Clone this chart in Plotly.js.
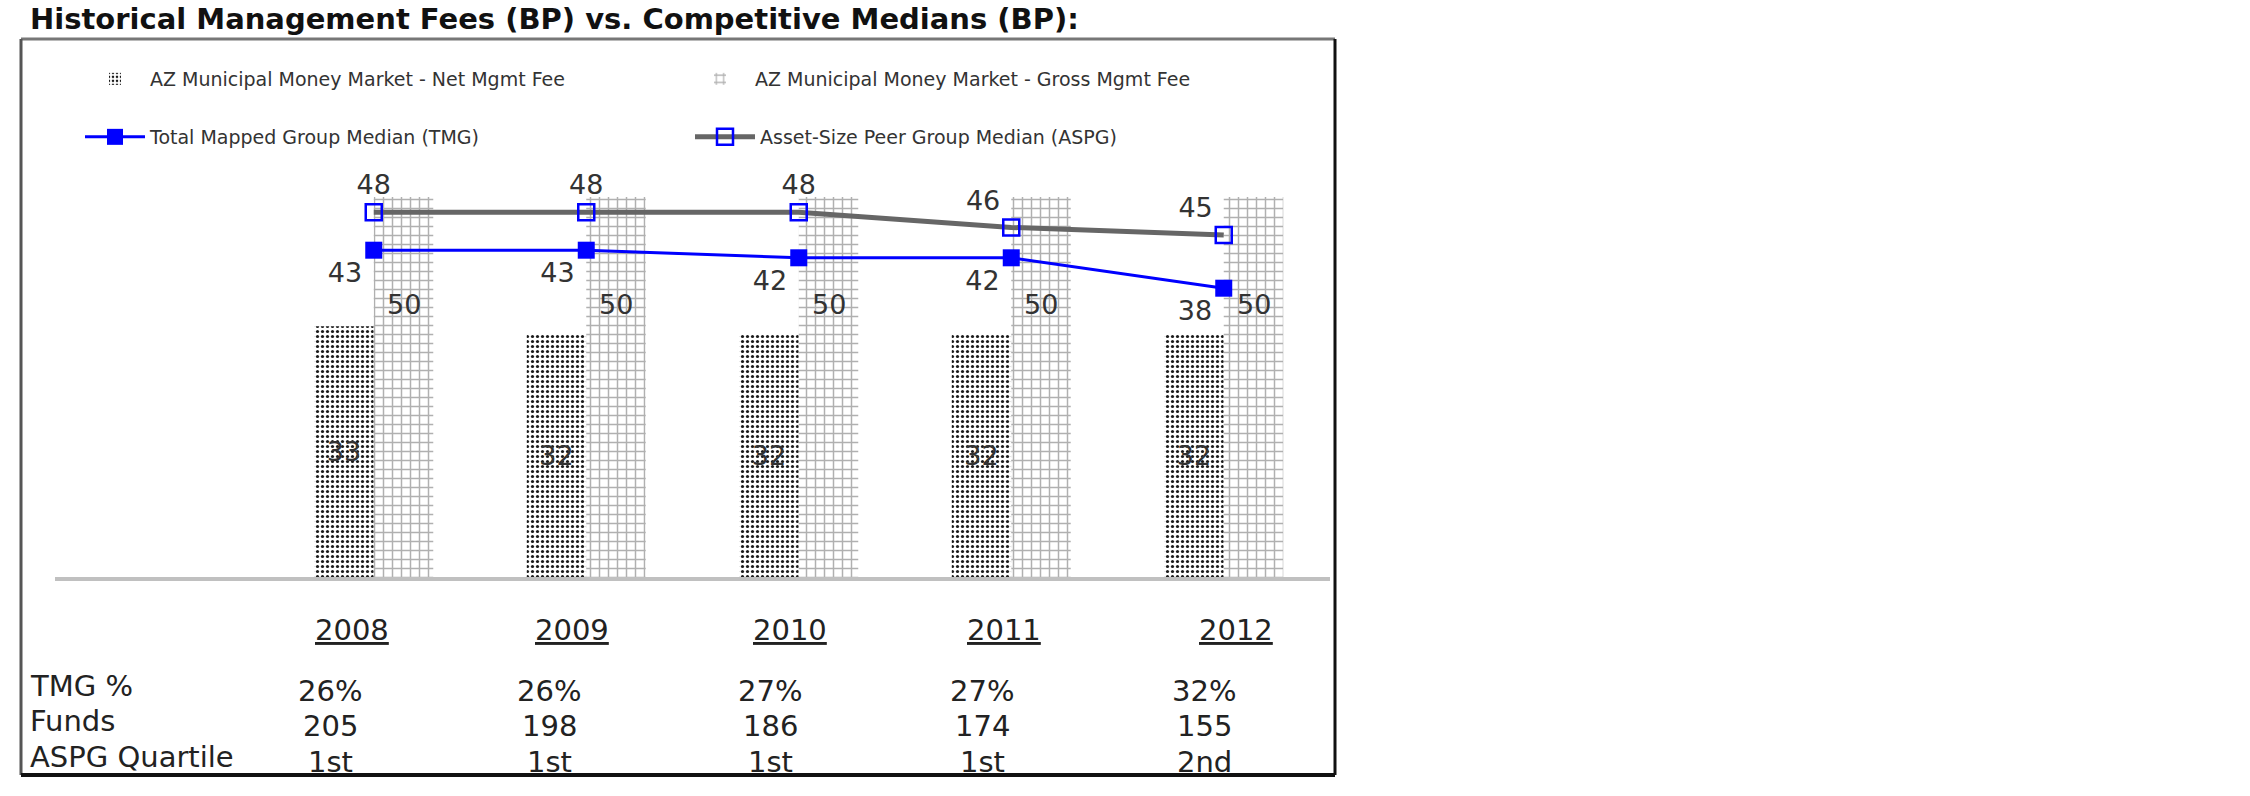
<!DOCTYPE html>
<html>
<head>
<meta charset="utf-8">
<script src="https://cdn.plot.ly/plotly-3.0.1.min.js"></script>
<style>
  html, body { margin: 0; padding: 0; background: #ffffff; }
  #chart { width: 2250px; height: 796px; }
</style>
</head>
<body>
<div id="chart"></div>
<script>
// ---------------- data ----------------
const years = ['2008', '2009', '2010', '2011', '2012'];
const netFee = [33, 32, 32, 32, 32];
const grossFee = [50, 50, 50, 50, 50];
const tmgMedian = [43, 43, 42, 42, 38];
const aspgMedian = [48, 48, 48, 46, 45];
const rowLabels = ['TMG %', 'Funds', 'ASPG Quartile'];
const tmgPct = ['26%', '26%', '27%', '27%', '32%'];
const funds = ['205', '198', '186', '174', '155'];
const aspgQuartile = ['1st', '1st', '1st', '1st', '2nd'];
const seriesNames = [
  'AZ Municipal Money Market - Net Mgmt Fee',
  'AZ Municipal Money Market - Gross Mgmt Fee',
  'Total Mapped Group Median (TMG)',
  'Asset-Size Peer Group Median (ASPG)'
];

// ---------------- layout geometry (pixels) ----------------
const W = 2250, H = 796;
const PL = 55, PR = 1330, PB = 577, PT = 159;
const px2x = p => (p - PL) / (PR - PL);
const py2y = p => (PB - p) / (PB - PT);
const FONT = 'DejaVu Sans';
const xs = years.map((_, i) => i);

const yearPx = [352, 572, 790, 1004, 1236];
const colPx = [330, 549, 770, 982, 1204];
const rowPy = [686, 721, 757];

// ---------------- traces ----------------
const traces = [
  {
    type: 'bar', name: seriesNames[0], x: xs, y: netFee,
    marker: { color: '#ffffff', line: { width: 0 },
      pattern: { shape: '.', fgcolor: '#1a1a1a', bgcolor: '#ffffff', size: 5, solidity: 0.32 } },
    text: netFee.map(String), textposition: 'inside', insidetextanchor: 'middle',
    constraintext: 'none',
    textfont: { family: FONT, size: 27, color: '#333333' },
    legend: 'legend', hoverinfo: 'skip'
  },
  {
    type: 'bar', name: seriesNames[1], x: xs, y: grossFee,
    marker: { color: '#ffffff', line: { width: 0 },
      pattern: { shape: '+', fgcolor: '#b0b0b0', bgcolor: '#ffffff', size: 9, solidity: 0.3 } },
    legend: 'legend2', hoverinfo: 'skip'
  },
  {
    type: 'scatter', mode: 'lines+markers+text', name: seriesNames[2], x: xs, y: tmgMedian,
    line: { color: '#0000ff', width: 3 },
    marker: { symbol: 'square', color: '#0000ff', size: 17 },
    text: tmgMedian.map(String),
    textposition: ['bottom left', 'bottom left', 'bottom left', 'bottom left', 'bottom left'],
    textfont: { family: FONT, size: 27, color: '#333333' },
    cliponaxis: false, legend: 'legend3', hoverinfo: 'skip'
  },
  {
    type: 'scatter', mode: 'lines+markers+text', name: seriesNames[3], x: xs, y: aspgMedian,
    line: { color: '#666666', width: 5 },
    marker: { symbol: 'square-open', color: '#0000ff', size: 16, line: { width: 2.5, color: '#0000ff' } },
    text: aspgMedian.map(String),
    textposition: ['top center', 'top center', 'top center', 'top left', 'top left'],
    textfont: { family: FONT, size: 27, color: '#333333' },
    cliponaxis: false, legend: 'legend4', hoverinfo: 'skip'
  }
];

// ---------------- annotations ----------------
const annotations = [];
grossFee.forEach((v, i) => {
  annotations.push({ xref: 'x', yref: 'y', x: i + 0.14, y: v, yshift: -107,
    text: String(v), showarrow: false, xanchor: 'center', yanchor: 'middle',
    font: { family: FONT, size: 27, color: '#333333' } });
});
years.forEach((yr, i) => {
  annotations.push({ xref: 'paper', yref: 'paper', x: px2x(yearPx[i]), y: py2y(630),
    text: '<u>' + yr + '</u>', showarrow: false, xanchor: 'center', yanchor: 'middle',
    font: { family: FONT, size: 29, color: '#222222' } });
});
const rows = [tmgPct, funds, aspgQuartile];
rowLabels.forEach((lab, r) => {
  annotations.push({ xref: 'paper', yref: 'paper', x: px2x(28), y: py2y(rowPy[r]),
    text: lab, showarrow: false, xanchor: 'left', yanchor: 'middle',
    font: { family: FONT, size: 29, color: '#222222' } });
  rows[r].forEach((v, i) => {
    annotations.push({ xref: 'paper', yref: 'paper', x: px2x(colPx[i]), y: py2y(rowPy[r] + 5),
      text: v, showarrow: false, xanchor: 'center', yanchor: 'middle',
      font: { family: FONT, size: 29, color: '#222222' } });
  });
});

// ---------------- frame shapes ----------------
const bx0 = px2x(21), bx1 = px2x(1335), by0 = py2y(775), by1 = py2y(39);
const shapes = [
  { type: 'line', xref: 'paper', yref: 'paper', x0: bx0, x1: bx1, y0: by1, y1: by1, line: { color: '#777777', width: 3 } },
  { type: 'line', xref: 'paper', yref: 'paper', x0: bx0, x1: bx0, y0: by0, y1: by1, line: { color: '#555555', width: 3 } },
  { type: 'line', xref: 'paper', yref: 'paper', x0: bx1, x1: bx1, y0: by0, y1: by1, line: { color: '#111111', width: 3 } },
  { type: 'line', xref: 'paper', yref: 'paper', x0: bx0, x1: bx1, y0: by0, y1: by0, line: { color: '#111111', width: 4 } }
];

function legendAt(px, py) {
  return { orientation: 'h', x: px2x(px), xanchor: 'left', y: py2y(py), yanchor: 'middle',
    bgcolor: 'rgba(0,0,0,0)', borderwidth: 0, itemwidth: 60,
    font: { family: FONT, size: 19, color: '#333333' } };
}

const layout = {
  width: W, height: H,
  margin: { l: PL, r: W - PR, t: PT, b: H - PB, pad: 0 },
  paper_bgcolor: '#ffffff', plot_bgcolor: '#ffffff',
  title: { text: 'Historical Management Fees (BP) vs. Competitive Medians (BP):',
    font: { family: FONT, size: 29, color: '#111111', weight: 'bold' },
    xref: 'container', yref: 'container', x: 30 / W, xanchor: 'left', y: 1 - 19 / H, yanchor: 'middle' },
  barmode: 'group', bargap: 0.44, bargroupgap: 0,
  xaxis: { range: [-1.5, 4.5], showgrid: false, zeroline: false, showticklabels: false, ticks: '',
    showline: true, linecolor: '#c0c0c0', linewidth: 4, fixedrange: true },
  yaxis: { range: [0, 55], showgrid: false, zeroline: false, showticklabels: false, ticks: '',
    showline: false, fixedrange: true },
  showlegend: true,
  legend: legendAt(80, 79),
  legend2: legendAt(685, 79),
  legend3: legendAt(80, 137),
  legend4: legendAt(690, 137),
  annotations: annotations,
  shapes: shapes
};

Plotly.newPlot('chart', traces, layout, { staticPlot: true, displayModeBar: false });
</script>
</body>
</html>
